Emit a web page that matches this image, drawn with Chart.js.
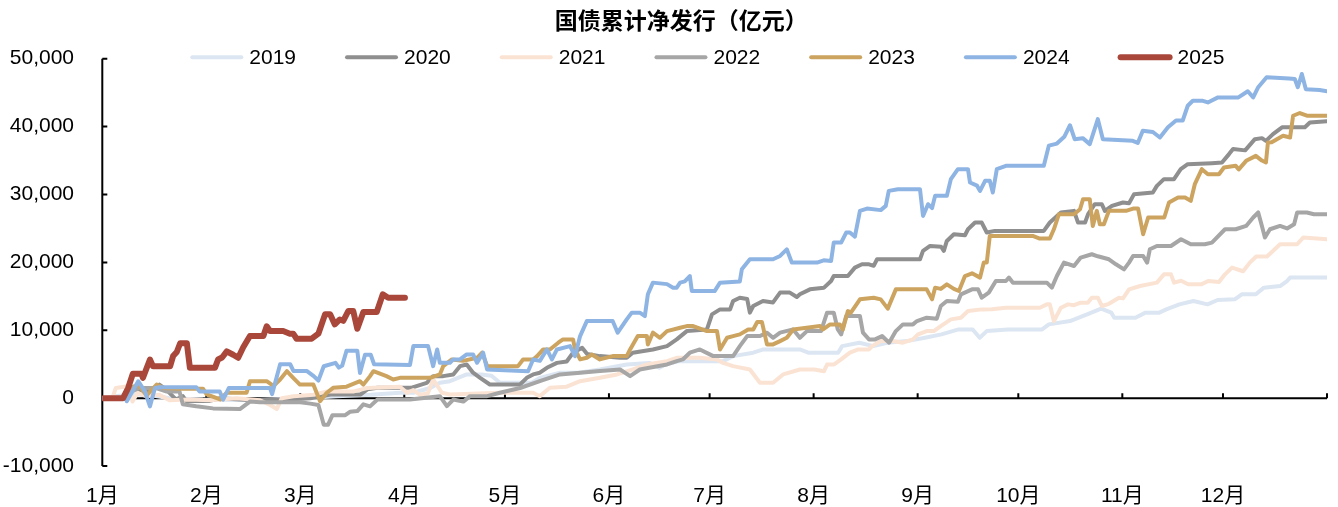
<!DOCTYPE html>
<html>
<head>
<meta charset="utf-8">
<script src="https://cdn.jsdelivr.net/npm/chart.js@4.4.1/dist/chart.umd.min.js"></script>
<style>
  html, body { margin: 0; padding: 0; background: #ffffff; }
  #wrap { width: 1338px; height: 507px; }
</style>
</head>
<body>
<div id="wrap"><canvas id="chart" width="1338" height="507"></canvas></div>
<script>
// 国债累计净发行（亿元）: cumulative net issuance by day of year, one series per year
const chartTitle = '国债累计净发行（亿元）';
const monthLabels = ['1月', '2月', '3月', '4月', '5月', '6月', '7月', '8月', '9月', '10月', '11月', '12月'];
const monthDays = [31, 28, 31, 30, 31, 30, 31, 31, 30, 31, 30, 31];
const seriesNames = ['2019', '2020', '2021', '2022', '2023', '2024', '2025'];

// [day of year, 亿元]
const s2019 = [[0,0],[4,300],[9,600],[15,400],[20,0],[30,-200],[45,-300],[60,0],[70,300],[80,500],[88.7,800],[92.7,800],[97.7,1500],[100.6,2270],[103.6,2500],[108.6,3500],[113,3500],[116,3300],[118.5,2270],[128,2270],[130.4,3000],[136.4,3750],[142,3750],[148.3,4230],[156.3,4970],[163,5200],[166,4500],[168,5000],[172,5460],[185,5460],[188,6200],[194,6700],[197,7180],[207.9,7180],[210.4,6700],[219.3,6700],[220.5,7670],[225.6,8170],[229.8,7670],[233.9,8170],[239.8,8410],[245.2,8900],[250.1,9400],[255.2,10130],[259.4,10130],[261.5,8900],[263.6,9880],[269.9,10130],[280.1,10130],[282.1,10870],[288.4,11360],[293.5,12350],[297.7,13190],[300.7,12600],[301.6,11860],[307.9,11860],[310.9,12600],[315,12600],[317.1,13080],[321,13820],[325.2,14310],[329.4,13820],[332.4,14460],[337.5,14560],[339.6,15300],[343.8,15300],[346.2,16280],[351,16520],[353.1,17260],[354,17760],[365,17760]];

const s2020 = [[0,0],[7,0],[8.3,1000],[10,1500],[13,800],[17,2000],[19,1300],[22,-200],[24,300],[25,-400],[32,-400],[35,0],[45,-300],[55,-200],[62,0],[68,550],[77,550],[79,1300],[82,1530],[92,1530],[96.7,2270],[98.6,3250],[101.6,3250],[104.6,3500],[106.6,4720],[108.6,4970],[110.5,3750],[112.6,3000],[115.5,2020],[124.5,2020],[126.5,3000],[128.4,3500],[130.4,3750],[132.5,4480],[135.5,5200],[138.4,5400],[140.3,6700],[143,7430],[144.5,6500],[148.3,6200],[154.3,5950],[156.3,5950],[158.1,6700],[164.1,7180],[168.3,7670],[171.2,8660],[174.2,9880],[180.2,10130],[181.7,12350],[184.1,13080],[187.1,13080],[188,14310],[190,14800],[192.2,14600],[193,12600],[194,13580],[196.9,14310],[199.9,14100],[202,15550],[204.9,15550],[207,14900],[207.9,15300],[210.9,16030],[215.1,16280],[217.2,17260],[218,17990],[222.2,17990],[224.3,19230],[226.4,19720],[228.5,19720],[229.9,19500],[230.9,20460],[243.7,20460],[244.6,21690],[246.7,22420],[250,22300],[250.8,21690],[251.7,23160],[253.8,24150],[257.1,24000],[258,24880],[260.1,25870],[262.1,25870],[263.6,24400],[266,24640],[280.6,24640],[282.4,25870],[285.7,27350],[289.6,27590],[290.8,25870],[292.9,25870],[293.8,27100],[295.8,28570],[297.9,28570],[298.8,27590],[300.9,28320],[304.2,28820],[306,28700],[307.5,30050],[313.1,30290],[314.3,31270],[316.4,32260],[319.4,32260],[321.4,33730],[323.5,34470],[330.7,34620],[333.7,34700],[335.8,35950],[337,36700],[340.6,36500],[343.5,38150],[345.6,38300],[346.8,37900],[348.9,38900],[351.6,39900],[358.4,39900],[359.9,40600],[365,40800]];

const s2021 = [[0,0],[3,0],[4,1500],[8,1800],[9,-500],[10.5,800],[13,300],[17,500],[20,-300],[26,-200],[32,-300],[40,0],[47,-300],[50,-1000],[52,-1600],[53.5,0],[57,300],[63,500],[67,1000],[75,1000],[79,1500],[88.7,1700],[90.8,800],[92.7,1200],[94.7,500],[97,700],[98.6,2760],[101.2,800],[103.6,550],[118.5,800],[128.4,800],[130.4,300],[133.4,1530],[138.4,1700],[142.4,2500],[148.3,3000],[153.4,3500],[158.1,4230],[162.3,4970],[168.3,5460],[171.2,5950],[178.1,5950],[183.2,5700],[185,5200],[188,4720],[193,4230],[196,2270],[199.9,2270],[202.9,3500],[207.9,4230],[212.2,4230],[215.1,3980],[216,4970],[218.1,4970],[220.2,5710],[222.8,6700],[225.3,7180],[228.5,7180],[229.4,7670],[232,8410],[235.6,8410],[238.6,8170],[241.6,8660],[243.1,9400],[245.7,9880],[247.8,9880],[249.9,10620],[252.9,11610],[255.9,11860],[258,12830],[262.1,13080],[265.1,13100],[269.3,13330],[279.4,13330],[281.5,13820],[282.4,13820],[283.6,11360],[285.7,13330],[287.8,13820],[289.6,13700],[291.6,14070],[293.7,14070],[294.9,14800],[296.7,14800],[297.9,13580],[300,13900],[303,14800],[304.2,14700],[306,16030],[309.3,16520],[314.3,17020],[316.4,18240],[318.5,18240],[319.4,17020],[321.5,17300],[323.6,16770],[327.5,16770],[329.6,17260],[332.8,17100],[334.6,18240],[336.7,19230],[340,18700],[342,19970],[343.9,20860],[347.1,20860],[348.9,21690],[351,22670],[356.1,22670],[357.9,23660],[365,23410]];

const s2022 = [[0,0],[6,0],[8,800],[11,1500],[16,1500],[19,1000],[23,1000],[24,-900],[28,-1200],[33,-1500],[41,-1600],[44,-500],[47,-600],[59,-600],[62,-800],[64.4,-1000],[66,-3900],[67.3,-3900],[68.6,-2500],[72.4,-2500],[73.8,-2000],[76,-1900],[77.8,-900],[79.8,-1200],[82,-200],[91.7,-200],[100.6,300],[102.7,-1180],[104.6,-200],[107.6,-500],[109.6,300],[114.7,300],[118.5,800],[124.5,1500],[130.4,2500],[136.4,3500],[142.4,3750],[148.3,4000],[154.3,4230],[157.3,3250],[160.2,4230],[168.3,4970],[171.2,5460],[173,5710],[175.1,6700],[178.1,7180],[182.1,6200],[188,6200],[190,7670],[192.2,9150],[196,9150],[198.1,9650],[199.9,8900],[202,9650],[205.9,10130],[207.9,8900],[210,9880],[214.2,9880],[216,12600],[218,12600],[219.2,10130],[220.2,9400],[221.7,12100],[225.8,12100],[226.7,9650],[228.5,8660],[230.3,8660],[232.4,9150],[234.5,8170],[236.5,9880],[238.6,10870],[241.6,10870],[242.8,11360],[245.7,11860],[248.7,11700],[249.9,13580],[251.7,14310],[255,14200],[255.9,15300],[259.2,16030],[261,16030],[262.1,14800],[264.2,15550],[266.3,17260],[269.3,17260],[270.2,17760],[271.4,17020],[281.5,17020],[283,16280],[284.5,17990],[286.6,19970],[289.6,19470],[291.6,20710],[294.9,21200],[296.7,20900],[300,20460],[302.1,19720],[304.5,18980],[306,19970],[307.2,20950],[310.2,20950],[311.4,19970],[312.2,21930],[314.3,22420],[318.5,22420],[321.5,23410],[324.4,22670],[328.6,22670],[330.7,22920],[334.6,24880],[337.8,24880],[340.9,25370],[343,26610],[344.5,27350],[345.6,25370],[346.5,23660],[348,24880],[351,25370],[353.1,25000],[355.2,25620],[356.1,27350],[359,27350],[361.1,27100],[365,27100]];

const s2023 = [[0,0],[6,0],[7.3,1280],[10.7,2000],[13.2,400],[16.2,2000],[18.2,1500],[23.2,1400],[30,1400],[31.1,550],[35.1,-190],[37.1,800],[43,800],[44,2500],[49,2500],[51,1800],[53,2760],[55,3980],[56.9,3000],[58.9,2000],[62.9,2000],[64.9,-440],[66.9,800],[68.8,1530],[72.8,1700],[76.8,2500],[77.8,2000],[79.8,3250],[80.8,3980],[84.7,3250],[86.7,2760],[88.7,3000],[97.7,3000],[100.6,3500],[101.6,4720],[104.2,5710],[107.5,5500],[111.7,5950],[113.2,6700],[114.7,4720],[123.9,4720],[125.4,5710],[128.4,5710],[129.6,6200],[131.4,7180],[133.4,7180],[135.9,8170],[137.3,8660],[140.3,8660],[140.9,7180],[142.4,5710],[144.4,5950],[145.9,6440],[148.3,5710],[152.1,6200],[156.3,6200],[157.3,7180],[159.6,9150],[162.3,9150],[162.6,7920],[164.1,9650],[166.2,8900],[168.3,9880],[172.2,10380],[174.2,10620],[176.1,10620],[180.2,9880],[183.2,9880],[184.1,7180],[186.2,8900],[188,9150],[190,9400],[192.5,10130],[194,10130],[195.2,11210],[196.6,11210],[198.1,7920],[199.9,7920],[202,8410],[204,8900],[205.9,10130],[213.9,10620],[214.8,10130],[216.9,10870],[219.8,10870],[220.7,10130],[222.2,12830],[223.1,12600],[225.8,14560],[229.9,14800],[232,14560],[234.1,13190],[236.5,16030],[245.7,16030],[247.3,14560],[248.2,16280],[249.9,16100],[251.7,16770],[253.8,16100],[255.3,15790],[257.1,17990],[259.2,18390],[261.6,17760],[262.7,19970],[263.6,19970],[264.5,23900],[277.3,23900],[279.4,23510],[282.4,23510],[283.6,24880],[285.1,27100],[289.6,27100],[291.4,27830],[292.3,29310],[294.3,29310],[295.2,25370],[296.4,27590],[297.3,25620],[298.5,25620],[300,27590],[305.1,27590],[307.2,27930],[308.7,27930],[310.2,24150],[311.7,26610],[316.5,26610],[317.9,28820],[320.6,29560],[322.7,29560],[324.4,29060],[325.6,31520],[327.7,33730],[329.5,32990],[332.8,32990],[334.3,33980],[337.8,34220],[338.7,33700],[340.9,34960],[343.8,35690],[345.6,35000],[346.8,34720],[347.4,37670],[348.5,37700],[351.9,38650],[354,38400],[354.9,41600],[356.9,42000],[359,41600],[365,41600]];

const s2024 = [[0,0],[7,0],[7.3,-450],[10.7,2500],[12.7,1000],[14.2,-1200],[15.7,1500],[17,1600],[28,1600],[29,1000],[35,1000],[36,-200],[37.7,1500],[50,1500],[50.6,600],[53,5000],[56,5000],[57,4000],[61,4000],[63,3250],[64.4,2600],[66,4700],[69.5,5200],[70.5,4500],[71.5,4800],[72.8,7000],[76,7000],[76.8,3700],[78.3,6400],[80,6400],[81,5000],[91.7,4900],[92.7,7670],[97.1,7670],[98.6,4720],[99.8,7180],[100.6,5220],[103.6,5220],[104.6,5710],[106.6,5710],[108.6,6440],[110.5,6440],[111.7,5220],[113.5,6700],[114.7,4230],[126.9,3980],[128.4,5710],[130.4,5500],[132.5,7180],[134,5710],[135.5,7180],[139.4,7670],[140.9,6200],[142.4,9150],[144.4,11360],[152.1,11360],[153.6,9650],[156.3,11610],[157.8,12600],[160.2,12600],[161.7,12100],[162.6,15300],[164.1,17020],[168.3,16800],[170.1,16280],[171.2,16280],[172.2,17020],[173.6,17200],[175.1,17990],[175.7,15780],[182.5,15780],[184.1,17020],[190,17200],[190.6,18980],[193,20460],[199.9,20460],[202,20950],[204,21930],[205.5,19970],[213,19970],[215,20300],[217.2,20200],[218,22920],[220.2,22920],[221.7,24400],[222.8,24400],[224.3,23800],[225.8,27590],[227.9,27930],[232,27700],[233.5,28320],[234.4,30530],[237.1,30780],[243.7,30780],[244.6,26850],[246.1,28570],[247.3,28000],[248.2,29800],[251.7,29800],[252.9,32260],[255,33730],[258,33730],[258.6,31770],[260.7,31300],[261.6,30530],[263.1,32010],[264.5,32010],[265.4,30290],[266.6,33730],[269.3,34220],[280.6,34220],[282.1,37200],[284.5,37500],[286.7,38500],[288.4,40200],[289.8,38150],[292.2,38300],[294.3,37420],[296.7,41100],[298.2,38150],[307.1,37900],[308.6,37600],[310.1,39400],[313.1,39200],[315.2,38400],[317.6,39900],[320,40900],[322,40900],[323.5,43070],[325,43800],[328,43800],[329.5,43560],[332.5,44300],[338.6,44300],[341.4,45200],[343,44300],[344.5,45800],[347,47260],[353.7,47100],[355.4,47000],[356.3,45800],[357.5,47750],[358.7,45500],[362.8,45400],[365,45200]];

const s2025 = [[0,0],[6.2,0],[7.7,1500],[9.1,3600],[11.7,3600],[12.1,3000],[14.2,5700],[15.1,4700],[20.2,4700],[21.1,6200],[22.2,6800],[23.2,8100],[25.2,8100],[26.1,4500],[33.6,4500],[34.5,5700],[35.7,6000],[37.1,6900],[39,6400],[40.5,5950],[42,7500],[44,9150],[48,9150],[49,10600],[50,9900],[53.9,9900],[55.9,9500],[56.9,9500],[57.9,8760],[62.4,8760],[64.4,9500],[66.4,12350],[67.9,12350],[69.3,10870],[70.8,11600],[71.8,11400],[73.3,12830],[74.8,12830],[76,10230],[77.8,12700],[81.8,12700],[83.6,15300],[85.2,14800],[90.2,14800]];

const seriesData = [s2019, s2020, s2021, s2022, s2023, s2024, s2025];
const seriesColors = ['#dce6f2', '#8f8f8f', '#fbe3d4', '#a6a6a6', '#cca460', '#8eb4e3', '#a8473a'];
const seriesWidths = [4, 4, 4, 4, 4, 4, 6];

// month start positions (day of year) used for x ticks
const monthStarts = [];
monthDays.reduce((acc, d) => { monthStarts.push(acc); return acc + d; }, 0);
const yearLength = monthDays.reduce((a, b) => a + b, 0);

const textFamily = '"Liberation Sans", Arial, "Noto Sans CJK SC", sans-serif';
const tickFont = { family: textFamily, size: 21 };

// axis lines at x=left and y=0, with short inward tick marks
const axisLines = {
  id: 'axisLines',
  beforeDatasetsDraw(chart) {
    const { ctx, chartArea, scales: { x, y } } = chart;
    const y0 = y.getPixelForValue(0);
    ctx.save();
    ctx.strokeStyle = '#000000';
    ctx.lineWidth = 2;
    ctx.beginPath();
    ctx.moveTo(chartArea.left, y.getPixelForValue(y.max));
    ctx.lineTo(chartArea.left, y.getPixelForValue(y.min));
    y.ticks.forEach(t => {
      const py = y.getPixelForValue(t.value);
      ctx.moveTo(chartArea.left, py);
      ctx.lineTo(chartArea.left + 5, py);
    });
    ctx.moveTo(chartArea.left, y0);
    ctx.lineTo(chartArea.right, y0);
    monthStarts.concat([yearLength]).forEach(d => {
      const px = x.getPixelForValue(d);
      ctx.moveTo(px, y0);
      ctx.lineTo(px, y0 - 5);
    });
    ctx.stroke();
    ctx.restore();
  }
};

// title and horizontal legend with line samples, drawn over the top of the plot
const headerBlock = {
  id: 'headerBlock',
  afterDraw(chart) {
    const { ctx, chartArea } = chart;
    ctx.save();
    ctx.fillStyle = '#000000';
    ctx.textBaseline = 'middle';
    ctx.textAlign = 'center';
    ctx.font = 'bold 23px "Noto Sans CJK SC", sans-serif';
    ctx.fillText(chartTitle, chartArea.left + 579, 20);

    ctx.font = '21px ' + textFamily;
    ctx.textAlign = 'left';
    const lineLen = 53, gap = 6, spacing = 49;
    const cy = chartArea.top - 1.5;
    let cx = chartArea.left + 88;
    chart.data.datasets.forEach(ds => {
      ctx.strokeStyle = ds.borderColor;
      ctx.lineWidth = ds.borderWidth;
      ctx.lineCap = 'round';
      ctx.beginPath();
      ctx.moveTo(cx + 2, cy);
      ctx.lineTo(cx + lineLen - 2, cy);
      ctx.stroke();
      ctx.fillText(ds.label, cx + lineLen + gap, cy + 1);
      cx += lineLen + gap + ctx.measureText(ds.label).width + spacing;
    });
    ctx.restore();
  }
};

new Chart(document.getElementById('chart'), {
  type: 'line',
  data: {
    datasets: seriesNames.map((name, i) => ({
      label: name,
      data: seriesData[i].map(p => ({ x: p[0], y: p[1] })),
      borderColor: seriesColors[i],
      backgroundColor: seriesColors[i],
      borderWidth: seriesWidths[i],
      borderJoinStyle: 'round',
      borderCapStyle: 'round',
      pointRadius: 0,
      tension: 0,
      fill: false,
      order: seriesNames.length - 1 - i
    }))
  },
  options: {
    responsive: false,
    animation: false,
    layout: { padding: { left: 0, right: 11, top: 58.7, bottom: 0 } },
    plugins: {
      legend: { display: false },
      tooltip: { enabled: false },
      title: { display: false }
    },
    scales: {
      x: {
        type: 'linear',
        min: 0,
        max: yearLength,
        grid: { display: false, drawTicks: false },
        border: { display: false },
        afterBuildTicks: scale => { scale.ticks = monthStarts.map(v => ({ value: v })); },
        afterFit: scale => { scale.height = 40.5; },
        ticks: {
          autoSkip: false,
          maxRotation: 0,
          padding: 17.9,
          color: '#000000',
          font: tickFont,
          callback: (value, index) => monthLabels[index]
        }
      },
      y: {
        min: -10000,
        max: 50000,
        grid: { display: false, drawTicks: false },
        border: { display: false },
        afterFit: scale => { scale.width = 102.3; },
        ticks: {
          stepSize: 10000,
          padding: 28.3,
          color: '#000000',
          font: tickFont,
          callback: v => v.toLocaleString('en-US')
        }
      }
    }
  },
  plugins: [axisLines, headerBlock]
});
</script>
</body>
</html>
